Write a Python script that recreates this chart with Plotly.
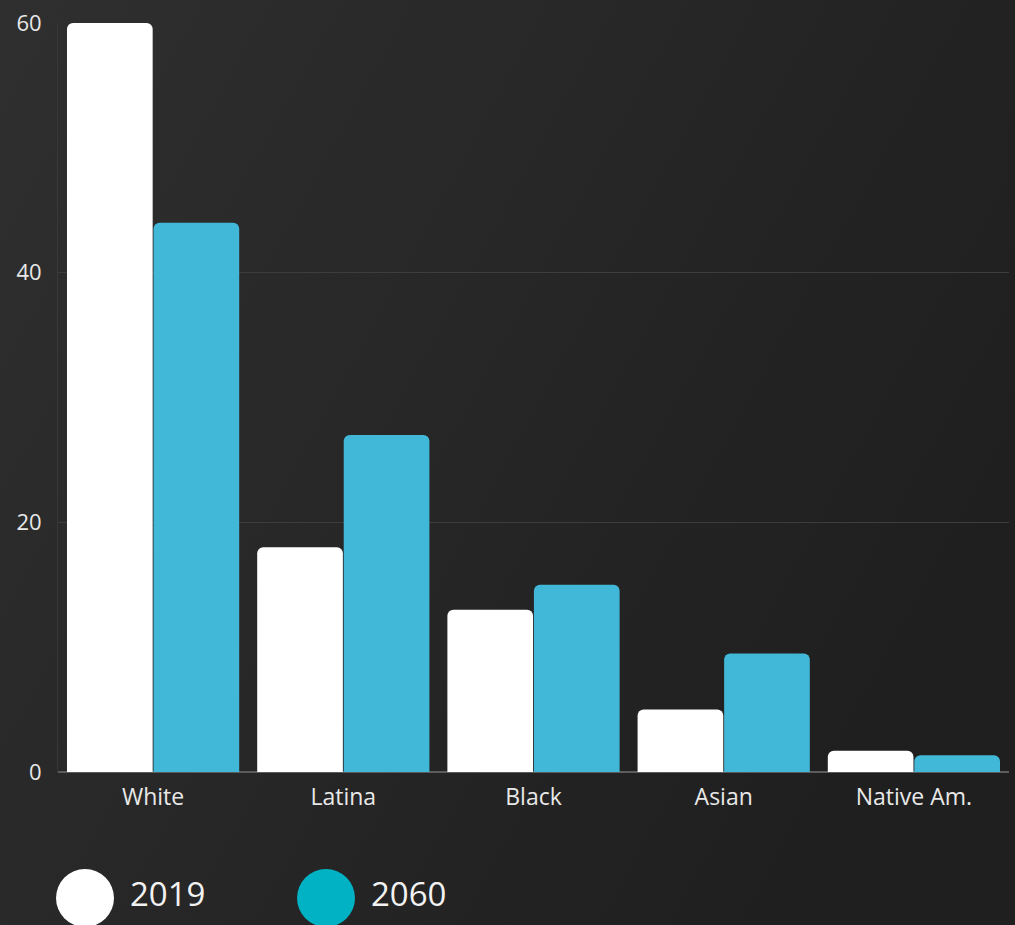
import base64
import plotly.graph_objects as go

categories = ["White", "Latina", "Black", "Asian", "Native Am."]
series_names = ["2019", "2060"]
values_2019 = [60, 18, 13, 5, 1.7]
values_2060 = [44, 27, 15, 9.5, 1.35]
y_ticks = [0, 20, 40, 60]

bar_colors = ["#ffffff", "#42b8d8"]
legend_colors = ["#ffffff", "#00b2c4"]

W, H = 1015, 925
ML, MR, MT, MB = 58, 6, 23, 153
PW, PH = W - ML - MR, H - MT - MB

fig = go.Figure()
for name, vals, col in zip(series_names, [values_2019, values_2060], bar_colors):
    fig.add_trace(go.Bar(x=categories, y=vals, name=name, marker_color=col,
                         marker_line_width=0, showlegend=False))

svg = (
    f'<svg xmlns="http://www.w3.org/2000/svg" width="{W}" height="{H}">'
    '<defs><linearGradient id="g" x1="0" y1="0" x2="1" y2="0.5">'
    '<stop offset="0" stop-color="#2f2f2f"/><stop offset="1" stop-color="#1f1f1f"/>'
    '</linearGradient></defs>'
    f'<rect width="{W}" height="{H}" fill="url(#g)"/></svg>'
)
src = "data:image/svg+xml;base64," + base64.b64encode(svg.encode()).decode()

def px_x(p):
    return (p - ML) / PW

def px_y(p):
    return (H - MB - p) / PH

fig.add_layout_image(dict(source=src, xref="paper", yref="paper",
                          x=px_x(0), y=px_y(0), sizex=W / PW, sizey=H / PH,
                          xanchor="left", yanchor="top", sizing="stretch",
                          layer="below"))

legend_x = [85, 326]
for name, col, cx in zip(series_names, legend_colors, legend_x):
    fig.add_shape(type="circle", xref="paper", yref="paper",
                  xsizemode="pixel", ysizemode="pixel",
                  xanchor=px_x(cx), yanchor=px_y(898),
                  x0=-29, x1=29, y0=-29, y1=29,
                  fillcolor=col, line_width=0)
    fig.add_annotation(text=name, xref="paper", yref="paper",
                       x=px_x(cx + 43), y=px_y(893), xanchor="left", yanchor="middle",
                       showarrow=False, font=dict(size=33, color="#f2f2f2"))

fig.update_layout(
    width=W, height=H,
    margin=dict(l=ML, r=MR, t=MT, b=MB),
    paper_bgcolor="#262626",
    plot_bgcolor="rgba(0,0,0,0)",
    barmode="group", bargap=0.09, bargroupgap=0.01,
    barcornerradius=6,
    font=dict(family="Open Sans, sans-serif", color="#e8e8e8"),
    xaxis=dict(showgrid=False, tickfont=dict(size=23, color="#e8e8e8"),
               ticks="", showline=False, zeroline=False, ticklabelstandoff=9),
    yaxis=dict(range=[0, 60], tickvals=y_ticks, showgrid=True,
               gridcolor="#3d3d3d", gridwidth=1,
               zeroline=True, zerolinecolor="#5c5c5c", zerolinewidth=1.5,
               showline=True, linecolor="#383838", linewidth=1,
               tickfont=dict(size=22, color="#e8e8e8"), ticklabelstandoff=11),
)

fig.write_html("out.html")
